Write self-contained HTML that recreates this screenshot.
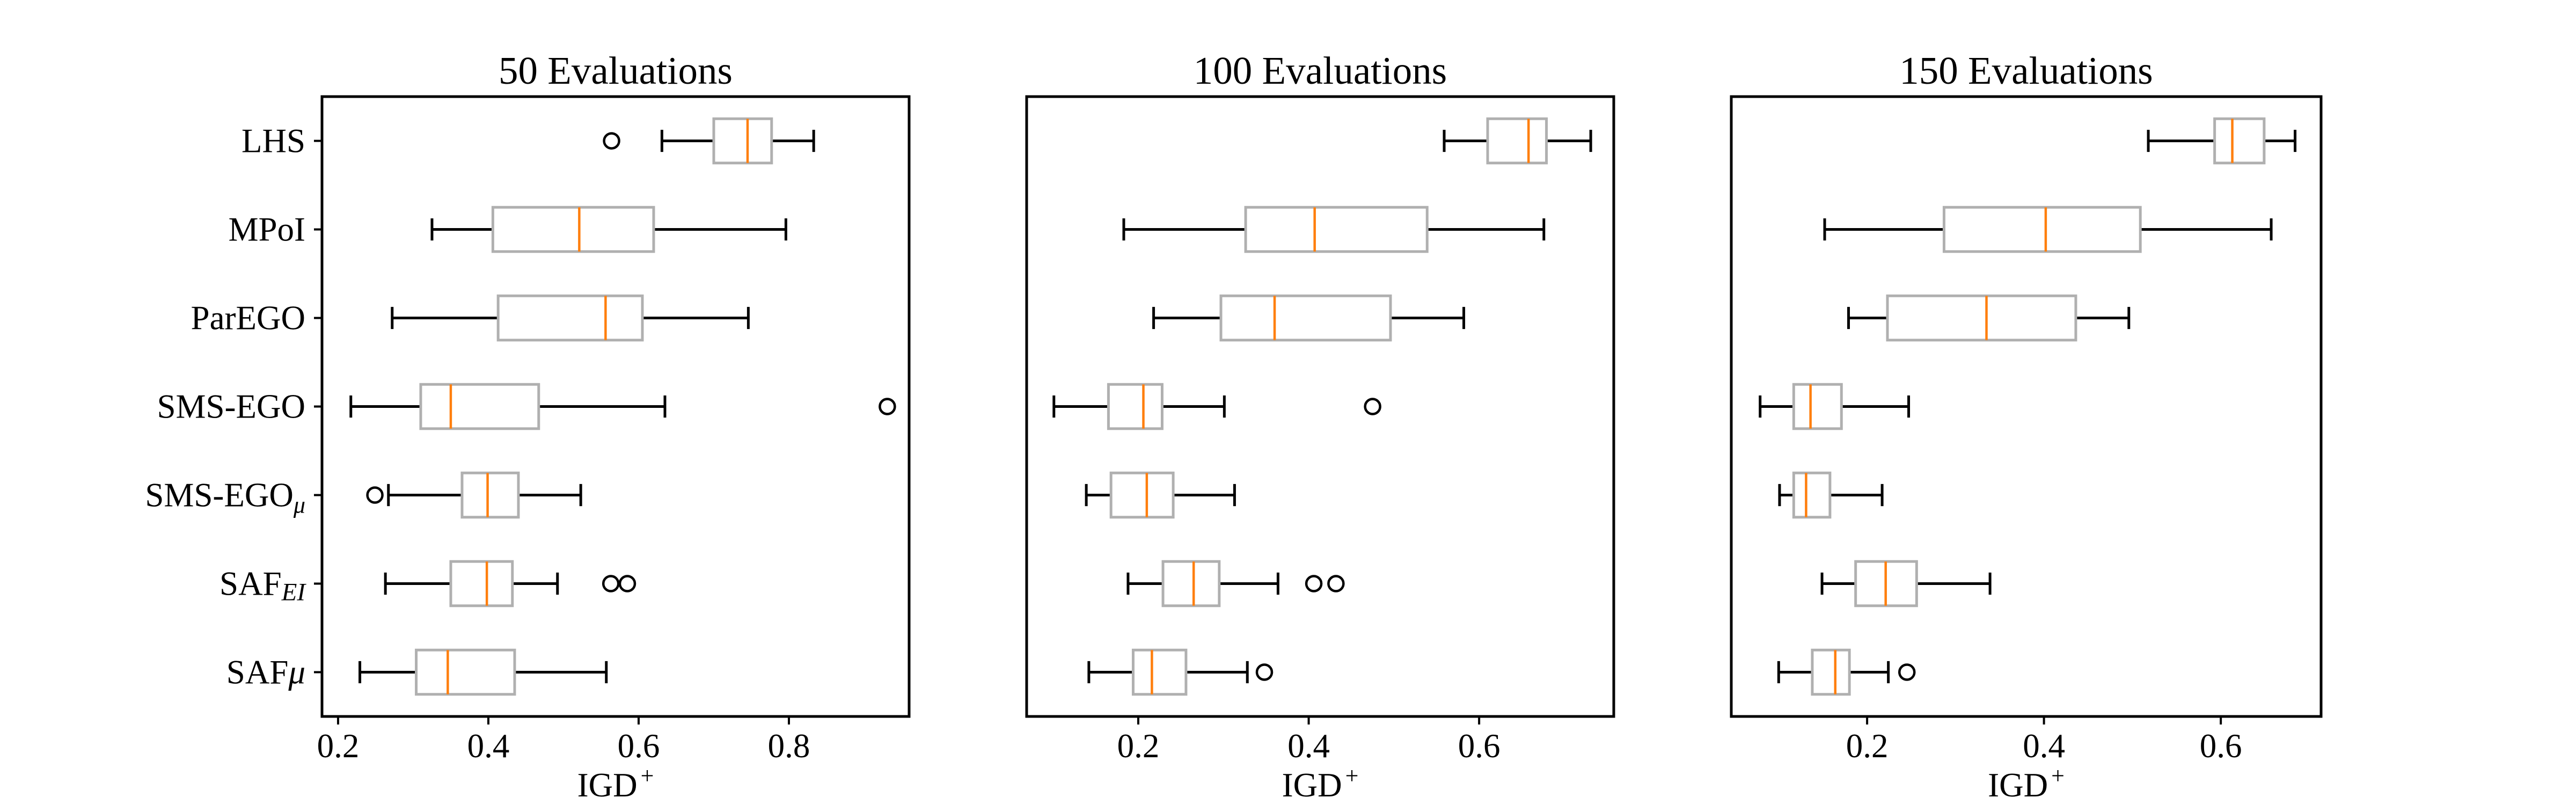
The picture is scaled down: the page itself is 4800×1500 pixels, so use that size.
<!DOCTYPE html>
<html><head><meta charset="utf-8"><style>
html,body{margin:0;padding:0;background:#fff;}
svg{display:block;font-family:"Liberation Serif","DejaVu Serif",serif;}
</style></head><body>
<svg id="chart" width="4800" height="1500" viewBox="0 0 4800 1500" xmlns="http://www.w3.org/2000/svg"></svg>
<script>
const categories = ["LHS","MPoI","ParEGO","SMS-EGO","SMS-EGO_mu","SAF_EI","SAF_mu"];
const panelTitles = ["50 Evaluations","100 Evaluations","150 Evaluations"];
const xTicks = [[0.2,0.4,0.6,0.8],[0.2,0.4,0.6],[0.2,0.4,0.6]];
const xTickLabels = [["0.2","0.4","0.6","0.8"],["0.2","0.4","0.6"],["0.2","0.4","0.6"]];
// each row: [whiskerLow, q1, median, q3, whiskerHigh]
const stats50 = [[0.631,0.700,0.745,0.777,0.833],[0.325,0.406,0.521,0.620,0.796],[0.272,0.413,0.556,0.605,0.746],[0.217,0.310,0.350,0.467,0.635],[0.267,0.365,0.399,0.440,0.523],[0.263,0.350,0.398,0.432,0.492],[0.229,0.304,0.346,0.435,0.557]];
const outliers50 = [[0.564],[],[],[0.931],[0.249],[0.563,0.585],[]];
const stats100 = [[0.559,0.610,0.658,0.679,0.731],[0.183,0.326,0.407,0.539,0.676],[0.218,0.297,0.360,0.496,0.582],[0.101,0.165,0.206,0.228,0.301],[0.139,0.168,0.210,0.241,0.313],[0.188,0.229,0.265,0.295,0.364],[0.142,0.194,0.216,0.256,0.328]];
const outliers100 = [[],[],[],[0.475],[],[0.406,0.432],[0.348]];
const stats150 = [[0.518,0.593,0.613,0.649,0.684],[0.152,0.287,0.402,0.509,0.657],[0.179,0.223,0.335,0.436,0.496],[0.079,0.117,0.136,0.171,0.247],[0.101,0.117,0.131,0.158,0.217],[0.149,0.187,0.221,0.256,0.339],[0.100,0.138,0.164,0.180,0.224]];
const outliers150 = [[],[],[],[],[],[],[0.245]];
const xDomains = [[0.1786,0.9600],[0.0690,0.7580],[0.0464,0.7134]];

const svgEl = document.getElementById('chart');
const NS = "http://www.w3.org/2000/svg";
function mk(tag, attrs, parent){ const e=document.createElementNS(NS,tag); for(const k in attrs) e.setAttribute(k,attrs[k]); parent.appendChild(e); return e; }

const panels = [
  {left:600,right:1694,stats:stats50,outs:outliers50},
  {left:1913,right:3007,stats:stats100,outs:outliers100},
  {left:3226,right:4325,stats:stats150,outs:outliers150}
];
const axTop=180, axBottom=1335;
const rowH=(axBottom-axTop)/7;
function yPos(i){ return axTop + rowH*(i+0.5); }

panels.forEach((p,pi)=>{
  const g = mk('g',{},svgEl);
  
  
  const d0=xDomains[pi][0], d1=xDomains[pi][1];
  const xs = v => p.left + (v-d0)/(d1-d0)*(p.right-p.left);
  const title = mk('text',{x:(p.left+p.right)/2,y:156,'text-anchor':'middle','font-size':73},g);
  title.textContent = panelTitles[pi];
  
  
  p.stats.forEach((s,i)=>{
    const y=yPos(i), bh=rowH/2;
    const bg = mk('g',{},g);
    
    
    mk('line',{x1:xs(s[0]),x2:xs(s[1]),y1:y,y2:y,stroke:'#000','stroke-width':5},bg);
    mk('line',{x1:xs(s[3]),x2:xs(s[4]),y1:y,y2:y,stroke:'#000','stroke-width':5},bg);
    mk('line',{x1:xs(s[0]),x2:xs(s[0]),y1:y-bh/4,y2:y+bh/4,stroke:'#000','stroke-width':5},bg);
    mk('line',{x1:xs(s[4]),x2:xs(s[4]),y1:y-bh/4,y2:y+bh/4,stroke:'#000','stroke-width':5},bg);
    mk('rect',{x:xs(s[1]),y:y-bh/2,width:xs(s[3])-xs(s[1]),height:bh,fill:'#fff',stroke:'#b0b0b0','stroke-width':5},bg);
    mk('line',{x1:xs(s[2]),x2:xs(s[2]),y1:y-bh/2,y2:y+bh/2,stroke:'#ff7f0e','stroke-width':4.5},bg);
    p.outs[i].forEach(o=>{
      const c = mk('circle',{cx:xs(o),cy:y,r:14,fill:'none',stroke:'#000','stroke-width':4.5},bg);
      
      
    });
  });
  const frame = mk('rect',{x:p.left,y:axTop,width:p.right-p.left,height:axBottom-axTop,fill:'none',stroke:'#000','stroke-width':5},g);
  
  
  xTicks[pi].forEach((t,ti)=>{
    const x=xs(t);
    mk('line',{x1:x,x2:x,y1:axBottom,y2:axBottom+15,stroke:'#000','stroke-width':4},g);
    const tl = mk('text',{x:x,y:1411,'text-anchor':'middle','font-size':63},g);
    tl.textContent = xTickLabels[pi][ti];
    
    
  });
  const xl = mk('text',{x:(p.left+p.right)/2,y:1484,'text-anchor':'middle','font-size':63},g);
  xl.appendChild(document.createTextNode('IGD'));
  const sup = mk('tspan',{dx:6,dy:-24,'font-size':44},xl);
  sup.textContent = '+';
  
  
  if(pi===0){
    categories.forEach((c,i)=>{
      const y=yPos(i);
      mk('line',{x1:p.left-15,x2:p.left,y1:y,y2:y,stroke:'#000','stroke-width':4},g);
      const t = mk('text',{x:569,y:y+21,'text-anchor':'end','font-size':63},g);
      if(c==='SMS-EGO_mu'){ t.appendChild(document.createTextNode('SMS-EGO')); const s=mk('tspan',{dy:12,'font-size':44,'font-style':'italic'},t); s.textContent='μ'; }
      else if(c==='SAF_EI'){ t.appendChild(document.createTextNode('SAF')); const s=mk('tspan',{dy:10,'font-size':47,'font-style':'italic'},t); s.textContent='EI'; }
      else if(c==='SAF_mu'){ t.appendChild(document.createTextNode('SAF')); const s=mk('tspan',{'font-style':'italic'},t); s.textContent='μ'; }
      else t.textContent=c;
      
      
    });
  }
});
</script>
</body></html>
